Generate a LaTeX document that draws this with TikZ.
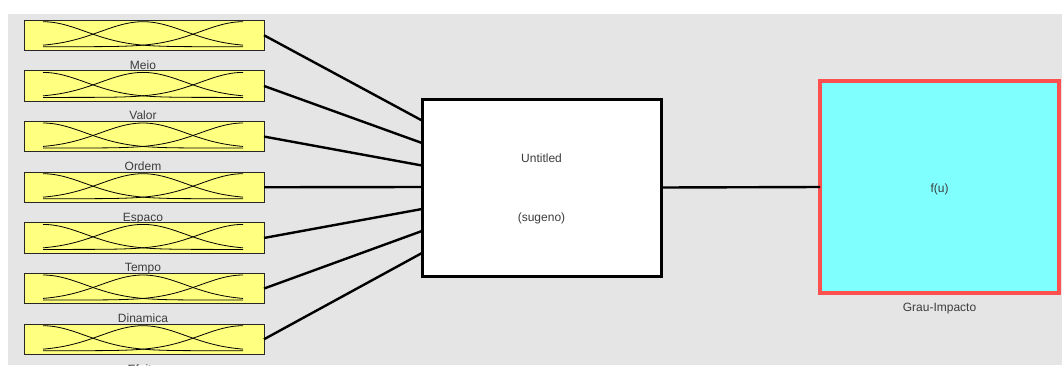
\documentclass[tikz,border=0pt]{standalone}
\usepackage{fontspec}
\setmainfont{Liberation Sans}
\usetikzlibrary{calc}
\definecolor{bgray}{RGB}{229,229,229}
\definecolor{myyellow}{RGB}{255,255,128}
\definecolor{mycyan}{RGB}{128,255,255}
\definecolor{myred}{RGB}{255,80,80}
\definecolor{txt}{RGB}{60,60,60}
\tikzset{
  inbox/.style={draw=black!85, line width=0.9pt, fill=myyellow, minimum width=240pt, minimum height=30.5pt, inner sep=0pt, outer sep=0pt},
  fisbox/.style={draw=black, line width=3pt, fill=white, minimum width=239pt, minimum height=177pt, inner sep=0pt, outer sep=0pt},
  outbox/.style={draw=myred, line width=3.5pt, fill=mycyan, minimum width=239pt, minimum height=212pt, inner sep=0pt, outer sep=0pt},
  lbl/.style={text=txt, font=\fontsize{12}{14}\selectfont, inner sep=0pt, anchor=base},
  ctr/.style={text=txt, font=\fontsize{12}{14}\selectfont, inner sep=0pt},
  conn/.style={black, line width=2.4pt},
  mf/.style={black, line width=0.8pt}
}
\begin{document}
\begin{tikzpicture}[x=1pt,y=-1pt]
\useasboundingbox (0,0) rectangle (1062,365);
\clip (0,0) rectangle (1062,365);
\fill[bgray] (8,14) rectangle (1062,365);
% input boxes
\foreach \i/\t/\name/\lab [count=\k] in {1/20/in1/Meio,2/70.7/in2/Valor,3/121.3/in3/Ordem,4/172/in4/Espaco,5/222.7/in5/Tempo,6/273.3/in6/Dinamica,7/324/in7/Efeito}{
  \node[inbox] (\name) at (144,\t+15.25) {};
  \draw[mf] plot[domain=43:243,samples=70,smooth] (\x,{\t+26.7-25*exp(-0.5*((\x-43)/42.5)^2)});
  \draw[mf] plot[domain=43:243,samples=70,smooth] (\x,{\t+26.7-25*exp(-0.5*((\x-143)/42.5)^2)});
  \draw[mf] plot[domain=43:243,samples=70,smooth] (\x,{\t+26.7-25*exp(-0.5*((\x-243)/42.5)^2)});
  \node[lbl] (l\name) at (143,\t+49) {\lab};
}
% fis box
\node[fisbox] (fis) at (541.5,187.5) {};
\node[ctr] (untitled) at (541.5,158.5) {Untitled};
\node[ctr] (sugeno) at (541.5,218.5) {(sugeno)};
% output box
\node[outbox] (out) at (939.5,187) {};
\node[ctr] (fu) at (939.5,189) {f(u)};
\node[ctr] (outlbl) at (939.5,309) {Grau-Impacto};
% connector coordinates on fis
\foreach \j/\d in {1/-67,2/-44.5,3/-22,4/-0.5,5/21.5,6/43.5,7/65.5}{
  \coordinate (p\j) at ($(fis.west)+(0,\d)$);
}
\foreach \j in {1,...,7}{
  \draw[conn] (in\j.east) -- (p\j);
}
\draw[conn] (fis.east) -- (out.west);
\end{tikzpicture}
\end{document}
